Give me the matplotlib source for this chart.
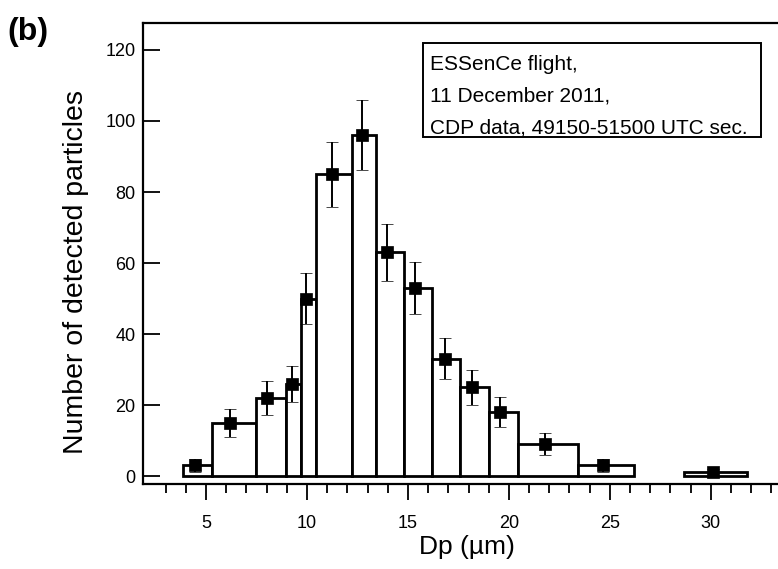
import numpy as np
import matplotlib
matplotlib.use("Agg")
import matplotlib.pyplot as plt
from matplotlib.ticker import FixedLocator
from matplotlib.patches import Rectangle

plt.rcParams['font.family'] = ['Liberation Sans', 'DejaVu Sans']

# CDP size bins (µm) and detected particle counts
bin_left = [3.85, 5.30, 7.45, 8.95, 9.70, 10.45, 12.25, 13.40, 14.80, 16.20,
            17.60, 19.00, 20.45, 23.40, 28.65]
bin_right = [5.30, 7.45, 8.95, 9.70, 10.45, 12.25, 13.40, 14.80, 16.20, 17.60,
             19.00, 20.45, 23.40, 26.20, 31.80]
dp_mid = [4.46, 6.19, 8.00, 9.24, 9.95, 11.23, 12.71, 13.95, 15.35, 16.84,
          18.16, 19.56, 21.79, 24.65, 30.13]
counts = [3, 15, 22, 26, 50, 85, 96, 63, 53, 33, 25, 18, 9, 3, 1]

y_ticks = [0, 20, 40, 60, 80, 100, 120]
x_ticks = [5, 10, 15, 20, 25, 30]

W, H = 778, 569
fig = plt.figure(figsize=(W / 100, H / 100), dpi=100)


def fx(px):
    return px / W


def fy(py):
    return 1 - py / H


ax_l, ax_r, ax_t, ax_b = 143.3, 778.0, 23.0, 483.5
ax = fig.add_axes([fx(ax_l), fy(ax_b), fx(ax_r - ax_l), (ax_b - ax_t) / H])

left = np.array(bin_left)
width = np.array(bin_right) - left
ax.bar(left, counts, width=width, align='edge', facecolor='white',
       edgecolor='black', linewidth=2.0, zorder=2)

# Poisson counting uncertainty
err = np.sqrt(np.array(counts, dtype=float))
ax.errorbar(dp_mid, counts, yerr=err, fmt='s', color='black', ms=9,
            mec='black', mew=0.5, ecolor='black', elinewidth=1.4,
            capsize=4.5, capthick=1.4, zorder=3)

ax.set_xlim(1.89, 33.33)
ax.set_ylim(-2.1, 127.6)

ax.yaxis.set_major_locator(FixedLocator(y_ticks))
ax.xaxis.set_major_locator(FixedLocator(x_ticks))
ax.xaxis.set_minor_locator(FixedLocator(np.arange(3, 34)))

ax.tick_params(axis='y', which='major', direction='in', length=12, width=1.3,
               labelsize=13, pad=5.5)
ax.tick_params(axis='x', which='major', direction='out', length=11.5,
               width=1.3, labelsize=13, pad=11)
ax.tick_params(axis='x', which='minor', direction='out', length=6.5,
               width=1.3)

for side in ('left', 'bottom', 'top'):
    ax.spines[side].set_linewidth(1.6)
ax.spines['right'].set_visible(False)

ax.set_xlabel('Dp (µm)', fontsize=19)
ax.xaxis.set_label_coords((466.5 - ax_l) / (ax_r - ax_l),
                          (ax_b - 535) / (ax_b - ax_t))
ax.set_ylabel('Number of detected particles', fontsize=20.5)
ax.yaxis.set_label_coords((89 - ax_l) / (ax_r - ax_l),
                          (ax_b - 272) / (ax_b - ax_t))

# panel tag
fig.text(fx(7), fy(17), '(b)', fontsize=23, fontweight='bold',
         ha='left', va='top')

# annotation box
box = Rectangle((fx(423), fy(137)), fx(760.5 - 423), (137 - 43) / H,
                transform=fig.transFigure, facecolor='white',
                edgecolor='black', linewidth=1.4, zorder=5)
fig.add_artist(box)
info_lines = ['ESSenCe flight,', '11 December 2011,',
              'CDP data, 49150-51500 UTC sec.']
for i, line in enumerate(info_lines):
    fig.text(fx(430), fy(70 + 31.7 * i), line, fontsize=15,
             ha='left', va='baseline', zorder=6)

fig.savefig('out.png', dpi=100, facecolor='white')
